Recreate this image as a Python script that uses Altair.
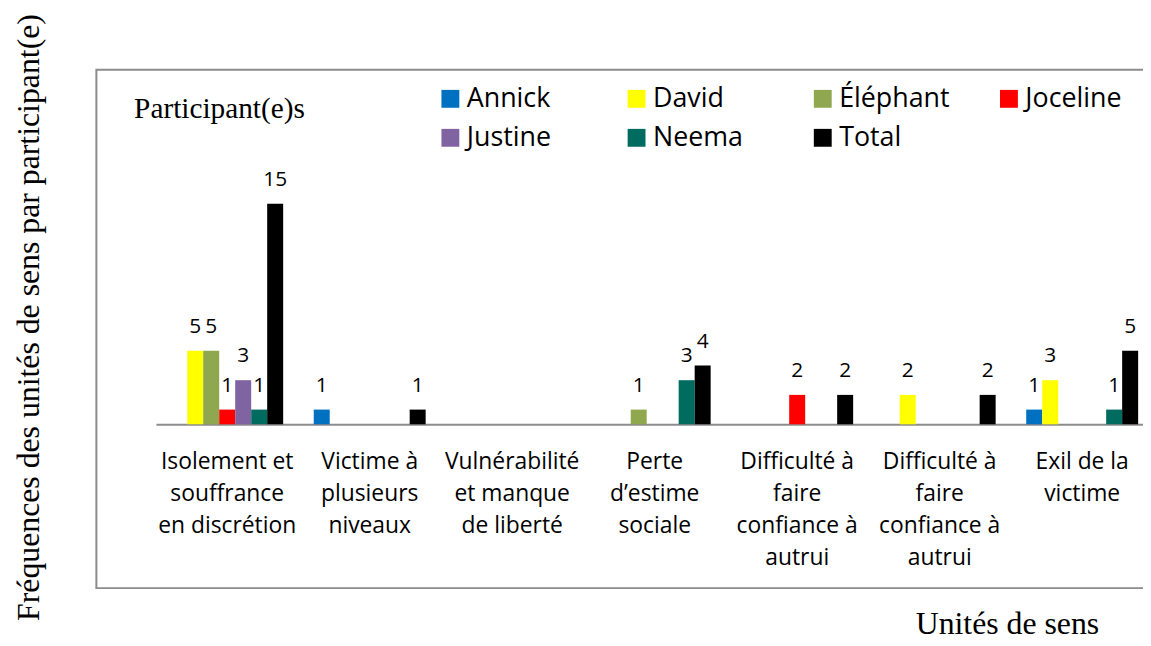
import altair as alt
import pandas as pd

# ---- data ----
categories = [
    "Isolement et|souffrance|en discrétion",
    "Victime à|plusieurs|niveaux",
    "Vulnérabilité|et manque|de liberté",
    "Perte|d’estime|sociale",
    "Difficulté à|faire|confiance à|autrui",
    "Difficulté à|faire|confiance à|autrui ",
    "Exil de la|victime",
]
participants = ["Annick", "David", "Éléphant", "Joceline", "Justine", "Neema", "Total"]
annick = [0, 1, 0, 0, 0, 0, 1]
david = [5, 0, 0, 0, 0, 2, 3]
elephant = [5, 0, 0, 1, 0, 0, 0]
joceline = [1, 0, 0, 0, 2, 0, 0]
justine = [3, 0, 0, 0, 0, 0, 0]
neema = [1, 0, 0, 3, 0, 0, 1]
total = [15, 1, 0, 4, 2, 2, 5]
colors = ["#0070C0", "#FFFF00", "#8FA84F", "#FF0000", "#8064A2", "#006B5F", "#000000"]

series = [annick, david, elephant, joceline, justine, neema, total]
rows = []
for p, vals in zip(participants, series):
    for c, v in zip(categories, vals):
        rows.append({"cat": c, "participant": p, "value": v})
df = pd.DataFrame(rows)
df = df[df["value"] > 0]

GRAY = "#8c8c8c"

x_enc = alt.X(
    "cat:N",
    sort=categories,
    scale=alt.Scale(domain=categories, range=[0, 1004.5], paddingInner=0, paddingOuter=0),
    axis=alt.Axis(
        title="Unités de sens",
        labelExpr="split(datum.value, '|')",
        labelAngle=0,
        labelFont="Open Sans",
        labelFontSize=23,
        labelColor="#000000",
        labelLineHeight=32,
        labelPadding=27,
        labelOverlap=False,
        ticks=False,
        domainColor=GRAY,
        domainWidth=2,
        titleFont="Liberation Serif",
        titleFontSize=32,
        titleFontWeight="normal",
        titleColor="#000000",
        titleX=857,
        titleY=211,
        titleAlign="center",
        titleBaseline="alphabetic",
    ),
)
xoff_enc = alt.XOffset(
    "participant:N",
    sort=participants,
    scale=alt.Scale(domain=participants, paddingInner=0, paddingOuter=0.956),
)
y_enc = alt.Y(
    "value:Q",
    scale=alt.Scale(domain=[0, 15], nice=False),
    axis=alt.Axis(
        title="Fréquences des unités de sens par participant(e)",
        labels=False,
        ticks=False,
        domain=False,
        grid=False,
        titleFont="Liberation Serif",
        titleFontSize=32,
        titleFontWeight="normal",
        titleColor="#000000",
        titleX=-118,
        titleY=114,
        titleAngle=270,
        titleAlign="center",
        titleBaseline="alphabetic",
    ),
)
color_enc = alt.Color(
    "participant:N",
    sort=participants,
    scale=alt.Scale(domain=participants, range=colors),
    legend=alt.Legend(
        title=None,
        orient="none",
        legendX=283,
        legendY=-119.5,
        direction="horizontal",
        columns=4,
        symbolType="square",
        symbolSize=324,
        symbolStrokeWidth=0,
        symbolOpacity=1,
        labelFont="Open Sans",
        labelFontSize=27,
        labelColor="#000000",
        labelOffset=3,
        columnPadding=45.5,
        rowPadding=11.5,
        gridAlign="all",
        padding=0,
    ),
)

base = alt.Chart(df).encode(x=x_enc, xOffset=xoff_enc, y=y_enc)
bars = base.mark_bar().encode(color=color_enc)
labels = base.mark_text(
    font="Open Sans", fontSize=21, baseline="alphabetic", dy=-18, color="#000000"
).encode(text="value:Q")

frame = alt.Chart(pd.DataFrame({"k": [0]})).mark_rect(
    fillOpacity=0, stroke=GRAY, strokeWidth=2
).encode(x=alt.value(-60), x2=alt.value(1100), y=alt.value(-135), y2=alt.value(387))

ptitle = alt.Chart(pd.DataFrame({"t": ["Participant(e)s"]})).mark_text(
    align="left", baseline="alphabetic", font="Liberation Serif", fontSize=29.5, color="#000000"
).encode(text="t:N", x=alt.value(-22), y=alt.value(-86))

chart = alt.layer(frame, bars, labels, ptitle).properties(
    width=994,
    height=222,
    autosize=alt.AutoSizeParams(type="none"),
    padding={"left": 149, "top": 195, "right": 0, "bottom": 213},
    background="#ffffff",
).configure_view(strokeWidth=0)

chart.save("out.html", embed_options={"renderer": "svg", "actions": False})
